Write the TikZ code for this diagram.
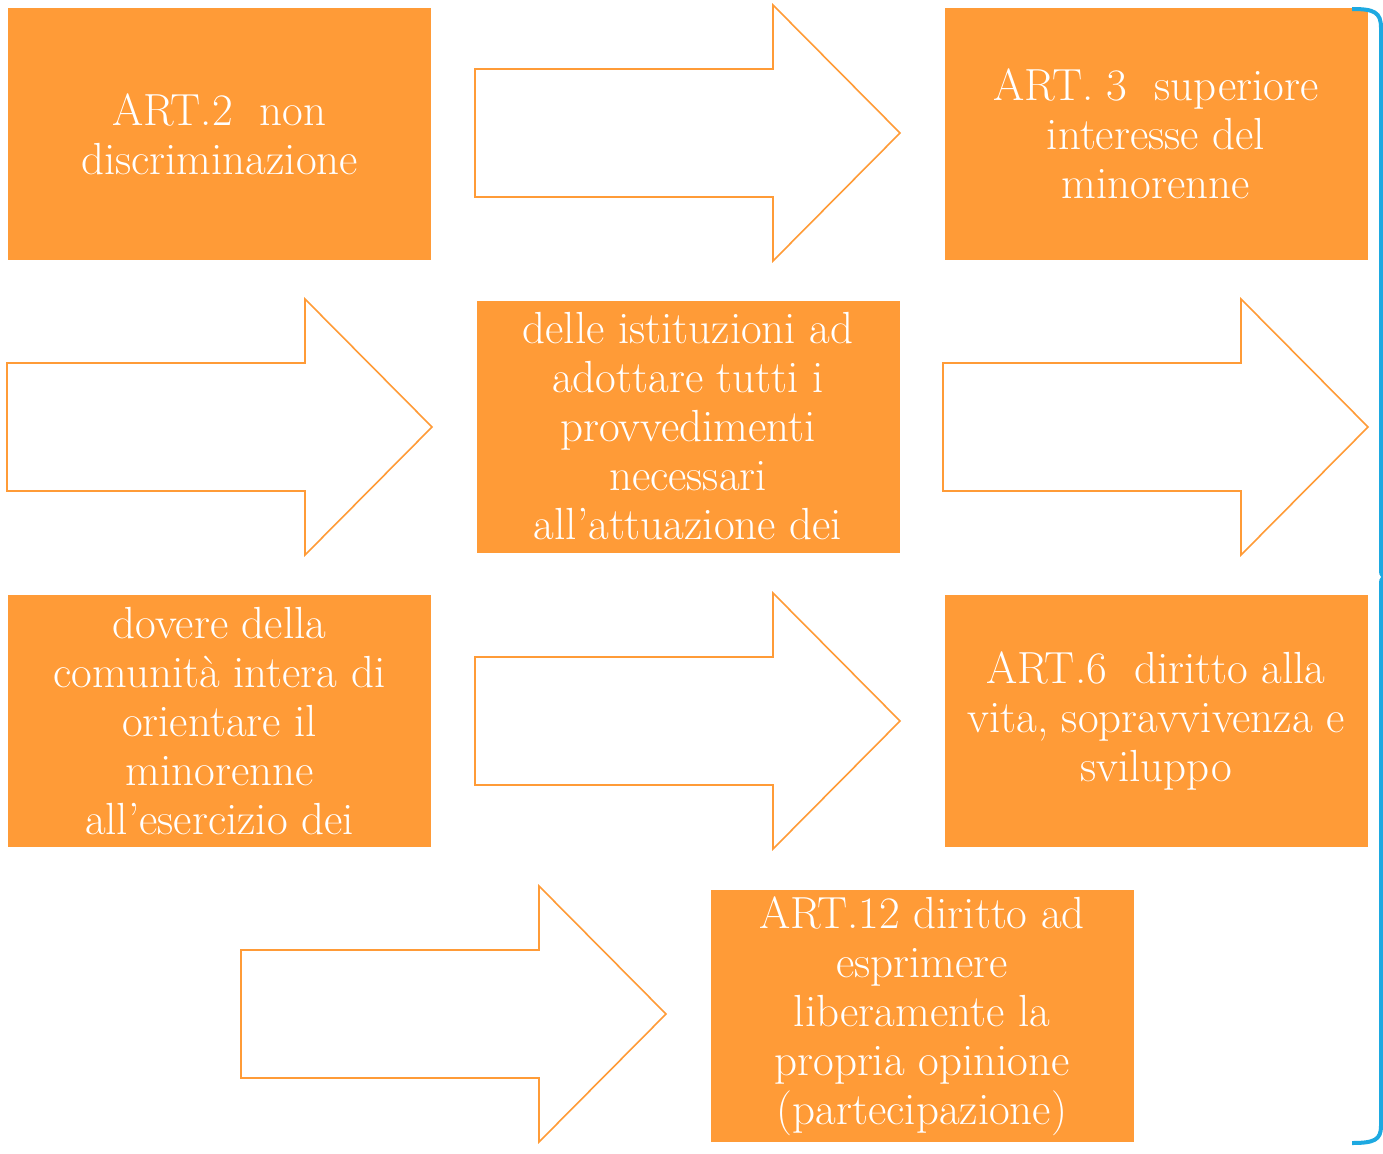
\documentclass[tikz,border=0pt]{standalone}
\usepackage{fontspec}
\definecolor{boxorange}{RGB}{255,155,55}
\definecolor{bracketblue}{RGB}{29,169,225}
\newcommand{\blockarr}[2]{%
  \draw[arrowline] (#1,#2-64) -- (#1+298,#2-64) -- (#1+298,#2-128) -- (#1+425,#2) -- (#1+298,#2+128) -- (#1+298,#2+64) -- (#1,#2+64) -- cycle;}
\begin{document}
\begin{tikzpicture}[x=1pt,y=-1pt,
  box/.style={fill=boxorange,draw=none,minimum width=423pt,minimum height=252pt,inner sep=0pt,
    text=white,align=center,font=\fontsize{45}{49}\selectfont},
  arrowline/.style={draw=boxorange,line width=1.6pt,fill=white,line join=miter},
  bracket/.style={draw=bracketblue,line width=4pt}]
\useasboundingbox (0,0) rectangle (1383,1153);
% row 1
\node[box] (b1) at (219.5,134) {ART.2\ \ non\\discriminazione};
\blockarr{475}{133}
\node[box] (b2) at (1156,134) {ART. 3\ \ superiore\\interesse del\\minorenne};
% row 2
\blockarr{7}{427}
\node[box] (b3) at (688,426.5) {delle istituzioni ad\\adottare tutti i\\provvedimenti\\necessari\\all’attuazione dei};
\blockarr{943}{427}
% row 3
\node[box] (b4) at (219.5,721) {dovere della\\comunità intera di\\orientare il\\minorenne\\all’esercizio dei};
\blockarr{475}{721}
\node[box] (b5) at (1156,721) {ART.6\ \ diritto alla\\vita, sopravvivenza e\\sviluppo};
% row 4
\blockarr{241}{1014}
\node[box] (b6) at (922,1016) {ART.12 diritto ad\\esprimere\\liberamente la\\propria opinione\\(partecipazione)};
% bracket
\coordinate (bt) at (1352,9);
\coordinate (bm) at (1384,577);
\coordinate (bb) at (1352,1143);
\draw[bracket] (bt) .. controls (1374,9) and (1381,12) .. (1381,28) -- (1381,568) .. controls (1381,574) .. (bm) .. controls (1381,580) .. (1381,586) -- (1381,1126) .. controls (1381,1140) and (1374,1143) .. (bb);
\end{tikzpicture}
\end{document}
